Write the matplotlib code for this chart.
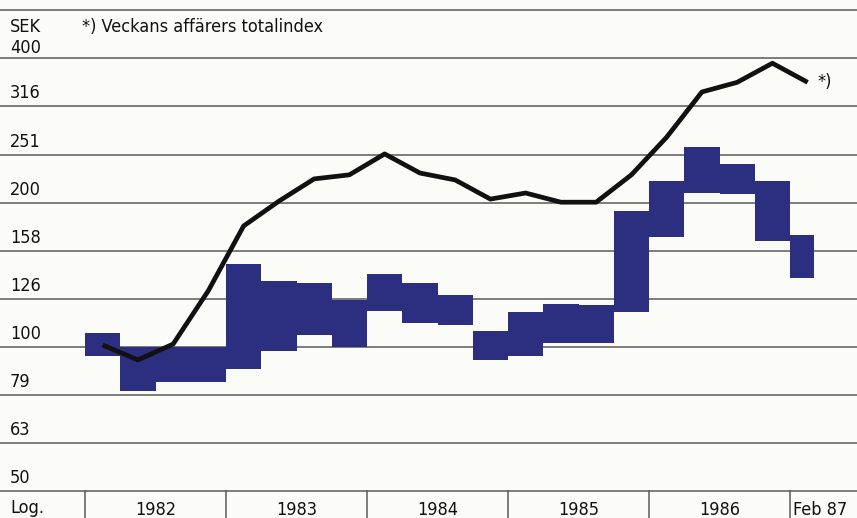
import numpy as np
import matplotlib
matplotlib.use("Agg")
import matplotlib.pyplot as plt
from matplotlib import font_manager

# Quarterly share price range (SEK), low / high, Q1 1982 .. Q4 1986, then Jan-Feb 1987
bar_low = [96, 81, 84.5, 84.5,
           90, 98, 106, 100,
           119, 112, 111, 94,
           96, 102, 102, 118,
           169, 209, 208, 166,
           139]
bar_high = [107, 100, 100, 100,
            149, 137, 136, 125,
            142, 136, 128, 108,
            118, 123, 122, 192,
            221, 260, 240, 221,
            171]
# Start month (0 = Jan 1982) and length in months of each range bar
bar_start = [0, 3, 6, 9, 12, 15, 18, 21, 24, 27, 30, 33,
             36, 39, 42, 45, 48, 51, 54, 57, 60]
bar_len = [3] * 20 + [2]

# Veckans affärers totalindex, rescaled to the same log axis
index_month = [1.5, 4.5, 7.5, 10.5, 13.5, 16.5, 19.5, 22.5, 25.5, 28.5, 31.5,
               34.5, 37.5, 40.5, 43.5, 46.5, 49.5, 52.5, 55.5, 58.5, 61.5]
index_value = [101, 94, 101.4, 131, 178.5, 201, 223.6, 228, 252, 230, 222.5,
               203, 209, 200, 200, 228, 273, 339, 355, 389, 355]

tick_labels = ["50", "63", "79", "100", "126", "158", "200", "251", "316", "400"]
year_labels = ["1982", "1983", "1984", "1985", "1986", "Feb 87"]
year_centers = [6, 18, 30, 42, 54, 62.6]
year_bounds = [0, 12, 24, 36, 48, 60]

# Pick a narrow sans face if one is available
fonts = font_manager.fontManager.ttflist
names = {f.name for f in fonts}
if "Liberation Sans Narrow" in names:
    TXT = dict(family="Liberation Sans Narrow")
elif any(f.name == "DejaVu Sans" and f.stretch == "condensed" for f in fonts):
    TXT = dict(family="DejaVu Sans", stretch="condensed")
else:
    TXT = dict(family="Roboto")
TXT.update(fontsize=13, color="#111111")

BG = "#fbfbf8"
BLUE = "#2c2e80"
GRID = "#5a5a5a"

fig = plt.figure(figsize=(8.57, 5.18), dpi=100, facecolor=BG)
ax = fig.add_axes([0, 0, 1, 1], facecolor=BG)
ax.set_yscale("log")
ymin, ymax = 10 ** 1.6445, 10 ** 2.7214
ax.set_xlim(-7.234, 65.70)
ax.set_ylim(ymin, ymax)
ax.axis("off")

# Horizontal log grid: one line every 0.1 decade from 50 to ~500
grid_vals = 10 ** (np.arange(17, 28) / 10)
for g in grid_vals:
    ax.axhline(g, color=GRID, lw=1.1, zorder=1)

# Price range bars
ax.bar(bar_start, np.array(bar_high) - np.array(bar_low), width=bar_len,
       bottom=bar_low, align="edge", color=BLUE, edgecolor="none", zorder=2)

# Index line
ax.plot(index_month, index_value, color="#111111", lw=3.4,
        solid_joinstyle="round", solid_capstyle="butt", zorder=3)
ax.text(62.3, index_value[-1], "*)", va="center", ha="left", **TXT)

# Y labels sit just above their grid line
for val, lab in zip(grid_vals[:-1], tick_labels):
    off = 1 if lab == "400" else 4
    ax.annotate(lab, (0.0117, val), xycoords=("axes fraction", "data"),
                xytext=(0, off), textcoords="offset pixels",
                ha="left", va="bottom", **TXT)

ax.text(0.0117, 0.938, "SEK", transform=ax.transAxes,
        ha="left", va="baseline", **TXT)
ax.text(0.0957, 0.938, "*) Veckans affärers totalindex", transform=ax.transAxes,
        ha="left", va="baseline", **TXT)

# Year axis below the bottom grid line
ax.annotate("Log.", (0.0117, 0), xycoords="axes fraction",
            xytext=(0, 5), textcoords="offset pixels",
            ha="left", va="baseline", **TXT)
for b in year_bounds:
    ax.plot([b, b], [ymin, grid_vals[0]], color=GRID, lw=1.1,
            clip_on=False, zorder=1)
for c, lab in zip(year_centers, year_labels):
    ax.annotate(lab, (c, 0), xycoords=("data", "axes fraction"),
                xytext=(0, 3), textcoords="offset pixels",
                ha="center", va="baseline", **TXT)

fig.savefig("out.png", dpi=100, facecolor=BG)
